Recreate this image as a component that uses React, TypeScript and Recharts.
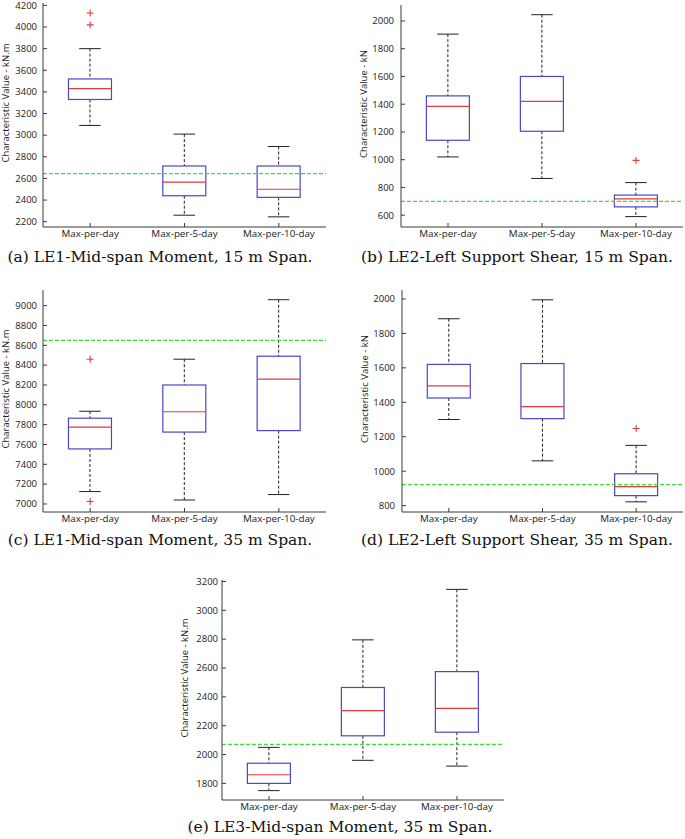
import React from "react";
import { ComposedChart, Bar, Scatter, XAxis, YAxis, ReferenceLine } from "recharts";

const categories = ["Max-per-day", "Max-per-5-day", "Max-per-10-day"];

// (a) LE1 mid-span moment, 15 m span
const aMin = [3090, 2260, 2245];
const aQ1 = [3330, 2440, 2425];
const aMed = [3430, 2565, 2500];
const aQ3 = [3520, 2715, 2715];
const aMax = [3800, 3010, 2895];
const aOut = [[4130, 4020], [], []];
const aLimit = 2645;
const aTicks = [2200, 2400, 2600, 2800, 3000, 3200, 3400, 3600, 3800, 4000, 4200];

// (b) LE2 left support shear, 15 m span
const bMin = [1020, 865, 590];
const bQ1 = [1140, 1205, 660];
const bMed = [1385, 1420, 718];
const bQ3 = [1460, 1600, 745];
const bMax = [1905, 2045, 835];
const bOut = [[], [], [995]];
const bLimit = 700;
const bTicks = [600, 800, 1000, 1200, 1400, 1600, 1800, 2000];

// (c) LE1 mid-span moment, 35 m span
const cMin = [7125, 7040, 7095];
const cQ1 = [7555, 7725, 7740];
const cMed = [7775, 7930, 8260];
const cQ3 = [7865, 8200, 8490];
const cMax = [7935, 8460, 9060];
const cOut = [[8460, 7025], [], []];
const cLimit = 8650;
const cTicks = [7000, 7200, 7400, 7600, 7800, 8000, 8200, 8400, 8600, 8800, 9000];

// (d) LE2 left support shear, 35 m span
const dMin = [1300, 1060, 822];
const dQ1 = [1425, 1305, 858];
const dMed = [1495, 1375, 910];
const dQ3 = [1620, 1625, 985];
const dMax = [1885, 1995, 1150];
const dOut = [[], [], [1248]];
const dLimit = 922;
const dTicks = [800, 1000, 1200, 1400, 1600, 1800, 2000];

// (e) LE3 mid-span moment, 35 m span
const eMin = [1750, 1960, 1920];
const eQ1 = [1800, 2130, 2155];
const eMed = [1860, 2305, 2320];
const eQ3 = [1940, 2465, 2575];
const eMax = [2050, 2795, 3145];
const eOut = [[], [], []];
const eLimit = 2070;
const eTicks = [1800, 2000, 2200, 2400, 2600, 2800, 3000, 3200];

const FRAME = "#3a3a3a";
const BLUE = "#4848c8";
const RED = "#e23b3b";
const GREEN = "#3ddc3d";
const TICK_FONT = "'Open Sans', sans-serif";
const Y_AXIS_W = 44;
const TOP_PAD = 10;

const makeRows = (mins: number[], q1: number[], med: number[], q3: number[], maxs: number[], outs: number[][]) =>
  categories.map((name, i) => ({
    name,
    min: mins[i],
    q1: q1[i],
    med: med[i],
    q3: q3[i],
    max: maxs[i],
    o1: outs[i][0] ?? null,
    o2: outs[i][1] ?? null,
  }));

const panels = [
  {
    key: "a", rows: makeRows(aMin, aQ1, aMed, aQ3, aMax, aOut), limit: aLimit, ticks: aTicks,
    domain: [2151, 4222], yLabel: "Characteristic Value - kN.m",
    caption: "(a) LE1-Mid-span Moment, 15 m Span.",
    left: 43, top: 3, w: 283, h: 224, gap: 6, capX: 160, capY: 257,
  },
  {
    key: "b", rows: makeRows(bMin, bQ1, bMed, bQ3, bMax, bOut), limit: bLimit, ticks: bTicks,
    domain: [515, 2115], yLabel: "Characteristic Value - kN",
    caption: "(b) LE2-Left Support Shear, 15 m Span.",
    left: 401, top: 5, w: 282, h: 222, gap: 7, capX: 517, capY: 257,
  },
  {
    key: "c", rows: makeRows(cMin, cQ1, cMed, cQ3, cMax, cOut), limit: cLimit, ticks: cTicks,
    domain: [6919, 9158], yLabel: "Characteristic Value - kN.m",
    caption: "(c) LE1-Mid-span Moment, 35 m Span.",
    left: 43, top: 290, w: 283, h: 222, gap: 6, capX: 160, capY: 540,
  },
  {
    key: "d", rows: makeRows(dMin, dQ1, dMed, dQ3, dMax, dOut), limit: dLimit, ticks: dTicks,
    domain: [763, 2052], yLabel: "Characteristic Value - kN",
    caption: "(d) LE2-Left Support Shear, 35 m Span.",
    left: 402, top: 290, w: 281, h: 222, gap: 7, capX: 517, capY: 540,
  },
  {
    key: "e", rows: makeRows(eMin, eQ1, eMed, eQ3, eMax, eOut), limit: eLimit, ticks: eTicks,
    domain: [1685, 3210], yLabel: "Characteristic Value - kN.m",
    caption: "(e) LE3-Mid-span Moment, 35 m Span.",
    left: 222, top: 580, w: 282, h: 220, gap: 4, capX: 340, capY: 827,
  },
];

// whiskers, box and median drawn from the bar's [min, max] extent
const BoxShape = (props: any) => {
  const { x, y, width, height, payload } = props;
  if (!payload || !Number.isFinite(y)) return null;
  const top = Math.min(y, y + height);
  const bottom = Math.max(y, y + height);
  const span = payload.max - payload.min;
  const py = (v: number) => bottom - ((v - payload.min) / span) * (bottom - top);
  const cx = x + width / 2;
  const cap = width / 4;
  return (
    <g>
      <line x1={cx} x2={cx} y1={py(payload.max)} y2={py(payload.q3)} stroke="#222" strokeDasharray="3 2" />
      <line x1={cx} x2={cx} y1={py(payload.q1)} y2={py(payload.min)} stroke="#222" strokeDasharray="3 2" />
      <line x1={cx - cap} x2={cx + cap} y1={py(payload.max)} y2={py(payload.max)} stroke="#222" />
      <line x1={cx - cap} x2={cx + cap} y1={py(payload.min)} y2={py(payload.min)} stroke="#222" />
      <rect x={x} y={py(payload.q3)} width={width} height={py(payload.q1) - py(payload.q3)} fill="none" stroke={BLUE} strokeWidth={1.2} />
      <line x1={x} x2={x + width} y1={py(payload.med)} y2={py(payload.med)} stroke={RED} strokeWidth={1.2} />
    </g>
  );
};

const Plus = (props: any) => {
  const { cx, cy } = props;
  if (!Number.isFinite(cx) || !Number.isFinite(cy)) return null;
  return (
    <path d={`M${cx - 3.5},${cy}H${cx + 3.5}M${cx},${cy - 3.5}V${cy + 3.5}`} stroke={RED} strokeWidth={1.1} />
  );
};

function Panel({ p }: { p: (typeof panels)[number] }) {
  const chartW = Y_AXIS_W + p.w + 2;
  const chartH = TOP_PAD + p.h + 20;
  return (
    <div style={{ position: "absolute", left: p.left - Y_AXIS_W, top: p.top - TOP_PAD }}>
      <ComposedChart
        width={chartW}
        height={chartH}
        data={p.rows}
        margin={{ top: TOP_PAD, right: 2, left: 0, bottom: 0 }}
        barCategoryGap="27%"
      >
        <XAxis
          dataKey="name"
          interval={0}
          height={20}
          tickSize={0}
          tickMargin={2}
          axisLine={{ stroke: FRAME }}
          tick={(t: any) => (
            <g>
              <line x1={t.x} x2={t.x} y1={t.y - 2} y2={t.y - 6} stroke={FRAME} />
              <text x={t.x} y={t.y} dy="0.85em" textAnchor="middle" fontSize={9.8} fontFamily={TICK_FONT} fill="#1a1a1a">
                {t.payload.value}
              </text>
            </g>
          )}
        />
        <XAxis
          dataKey="name"
          xAxisId="top"
          orientation="top"
          interval={0}
          height={0}
          tickSize={0}
          tickMargin={0}
          axisLine={{ stroke: FRAME }}
          tick={(t: any) => <line x1={t.x} x2={t.x} y1={t.y} y2={t.y + 4} stroke={FRAME} />}
        />
        <YAxis
          type="number"
          domain={p.domain}
          ticks={p.ticks}
          allowDataOverflow
          interval={0}
          width={Y_AXIS_W}
          tickSize={0}
          tickMargin={p.gap}
          axisLine={{ stroke: FRAME }}
          tick={(t: any) => (
            <g>
              <line x1={t.x + p.gap} x2={t.x + p.gap + 4} y1={t.y} y2={t.y} stroke={FRAME} />
              <text x={t.x} y={t.y} dy="0.35em" textAnchor="end" fontSize={9.5} fontFamily={TICK_FONT} fill="#1a1a1a">
                {t.payload.value}
              </text>
            </g>
          )}
          label={(lp: any) => {
            const vb = lp.viewBox;
            const lx = vb.x + vb.width - 38;
            const ly = vb.y + vb.height / 2 - 12;
            return (
              <text
                x={lx}
                y={ly}
                transform={`rotate(-90, ${lx}, ${ly})`}
                textAnchor="middle"
                dominantBaseline="central"
                fontSize={9.5}
                fontFamily={TICK_FONT}
                fill="#1a1a1a"
              >
                {p.yLabel}
              </text>
            );
          }}
        />
        <YAxis
          yAxisId="right"
          orientation="right"
          type="number"
          domain={p.domain}
          ticks={p.ticks}
          allowDataOverflow
          interval={0}
          width={0}
          tickSize={0}
          tickMargin={0}
          axisLine={{ stroke: FRAME }}
          tick={(t: any) => <line x1={t.x} x2={t.x - 4} y1={t.y} y2={t.y} stroke={FRAME} />}
        />
        <ReferenceLine y={p.limit} stroke={GREEN} strokeDasharray="4 2" strokeWidth={1.2} />
        <Bar dataKey={(d: any) => [d.min, d.max]} shape={BoxShape} isAnimationActive={false} />
        <Scatter dataKey="o1" shape={Plus} isAnimationActive={false} />
        <Scatter dataKey="o2" shape={Plus} isAnimationActive={false} />
      </ComposedChart>
    </div>
  );
}

export default function App() {
  return (
    <div style={{ position: "absolute", left: 0, top: 0, width: 685, height: 839, background: "#fff", overflow: "hidden" }}>
      {panels.map((p) => (
        <React.Fragment key={p.key}>
          <Panel p={p} />
          <div
            style={{
              position: "absolute",
              left: p.capX - 200,
              top: p.capY - 9,
              width: 400,
              textAlign: "center",
              fontFamily: "'DejaVu Serif', serif",
              fontSize: 15.5,
              lineHeight: "18px",
              whiteSpace: "nowrap",
              color: "#111",
            }}
          >
            {p.caption}
          </div>
        </React.Fragment>
      ))}
    </div>
  );
}
